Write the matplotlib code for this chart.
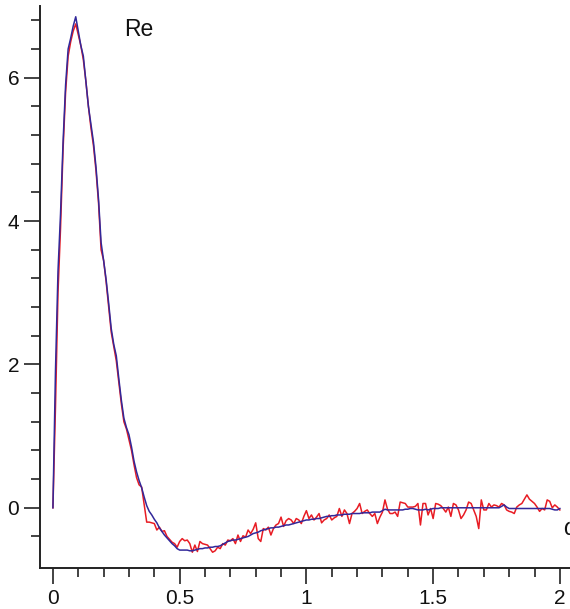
import matplotlib
matplotlib.use("Agg")
import matplotlib.pyplot as plt
import numpy as np

plt.rcParams['font.family'] = ['Liberation Sans', 'DejaVu Sans']

# frequency grid, step 0.01 from 0 to 2
omega = np.round(np.arange(0, 201) * 0.01, 2)

# measured (noisy) real part
re_data = [
    0.00, 1.40, 3.00, 3.90, 5.00, 5.80, 6.30, 6.50, 6.65, 6.75,
    6.60, 6.45, 6.25, 5.95, 5.60, 5.30, 5.05, 4.70, 4.25, 3.60,
    3.45, 3.15, 2.80, 2.45, 2.25, 2.05, 1.75, 1.45, 1.20, 1.10,
    0.95, 0.80, 0.60, 0.42, 0.32, 0.29, 0.05, -0.20, -0.20, -0.21,
    -0.22, -0.31, -0.27, -0.33, -0.32, -0.40, -0.44, -0.48, -0.50, -0.55,
    -0.47, -0.43, -0.46, -0.45, -0.50, -0.62, -0.52, -0.61, -0.47, -0.50,
    -0.51, -0.52, -0.57, -0.62, -0.60, -0.55, -0.57, -0.50, -0.52, -0.45,
    -0.46, -0.43, -0.50, -0.38, -0.47, -0.39, -0.41, -0.31, -0.36, -0.30,
    -0.21, -0.43, -0.47, -0.29, -0.31, -0.27, -0.38, -0.29, -0.24, -0.22,
    -0.13, -0.26, -0.18, -0.15, -0.17, -0.22, -0.15, -0.17, -0.22, -0.12,
    -0.04, -0.15, -0.10, -0.17, -0.13, -0.08, -0.21, -0.17, -0.15, -0.10,
    -0.17, -0.14, -0.12, -0.01, -0.12, -0.03, -0.08, -0.22, -0.08, -0.05,
    -0.01, 0.06, -0.08, -0.05, -0.03, -0.08, -0.12, -0.08, -0.22, -0.13,
    -0.06, 0.11, -0.02, -0.08, -0.08, -0.06, -0.12, 0.08, 0.07, 0.06,
    0.01, 0.01, 0.01, 0.02, 0.06, -0.24, 0.06, 0.06, -0.10, -0.01,
    -0.15, 0.06, 0.05, 0.03, -0.01, -0.06, 0.01, -0.12, 0.06, 0.04,
    -0.03, -0.15, -0.10, -0.03, 0.08, 0.06, -0.03, -0.12, -0.29, 0.11,
    -0.03, -0.03, 0.06, 0.01, 0.04, 0.03, 0.01, 0.06, 0.04, -0.03,
    -0.05, -0.06, -0.08, 0.01, 0.04, 0.06, 0.12, 0.18, 0.12, 0.09,
    0.06, 0.01, -0.05, -0.01, -0.03, 0.11, 0.09, 0.00, 0.04, 0.01,
    -0.03,
]

# fitted real part
re_fit = [
    0.00, 1.90, 3.30, 4.10, 5.10, 5.90, 6.40, 6.55, 6.72, 6.85,
    6.65, 6.45, 6.30, 5.95, 5.60, 5.35, 5.10, 4.75, 4.30, 3.70,
    3.45, 3.18, 2.85, 2.50, 2.28, 2.12, 1.80, 1.50, 1.25, 1.12,
    1.02, 0.85, 0.65, 0.50, 0.38, 0.28, 0.15, 0.03, -0.05, -0.10,
    -0.16, -0.21, -0.28, -0.33, -0.38, -0.42, -0.46, -0.50, -0.53, -0.57,
    -0.59, -0.59, -0.59, -0.59, -0.60, -0.60, -0.59, -0.58, -0.57, -0.57,
    -0.56, -0.56, -0.55, -0.55, -0.54, -0.54, -0.53, -0.51, -0.49, -0.47,
    -0.46, -0.45, -0.45, -0.44, -0.43, -0.42, -0.41, -0.40, -0.38, -0.36,
    -0.35, -0.34, -0.32, -0.31, -0.30, -0.29, -0.28, -0.28, -0.27, -0.27,
    -0.26, -0.25, -0.24, -0.24, -0.23, -0.22, -0.21, -0.20, -0.19, -0.18,
    -0.17, -0.17, -0.16, -0.16, -0.15, -0.15, -0.14, -0.13, -0.12, -0.12,
    -0.11, -0.11, -0.10, -0.10, -0.10, -0.09, -0.09, -0.09, -0.08, -0.08,
    -0.08, -0.08, -0.07, -0.07, -0.07, -0.07, -0.06, -0.06, -0.06, -0.06,
    -0.04, -0.02, -0.03, -0.03, -0.03, -0.03, -0.03, -0.03, -0.03, -0.02,
    -0.02, -0.01, -0.01, -0.02, -0.03, -0.03, -0.03, -0.02, -0.03, -0.02,
    -0.01, -0.01, -0.01, 0.00, 0.00, 0.00, 0.00, 0.00, 0.00, 0.00,
    0.00, 0.00, 0.00, 0.00, 0.00, 0.00, 0.00, 0.00, 0.00, 0.00,
    0.00, 0.00, 0.00, 0.00, 0.00, 0.00, 0.00, 0.02, 0.04, 0.01,
    -0.01, -0.01, -0.01, -0.01, -0.01, -0.01, -0.01, -0.01, -0.01, -0.01,
    -0.01, -0.01, -0.01, -0.01, -0.01, -0.01, -0.01, -0.02, -0.03, -0.03,
    -0.01,
]

x_major = [0, 0.5, 1, 1.5, 2]
x_minor = np.round(np.arange(0, 20.5) * 0.1, 1)
y_major = [0, 2, 4, 6]
y_minor = [-0.4, 0.4, 0.8, 1.2, 1.6, 2.4, 2.8, 3.2, 3.6, 4.4, 4.8, 5.2, 5.6, 6.4, 6.8]

fig = plt.figure(figsize=(5.70, 6.09), dpi=100)
ax = fig.add_axes([40 / 570, 41 / 609, 530 / 570, 562 / 609])

ax.plot(omega, re_data, color='#e81c24', lw=1.1)
ax.plot(omega, re_fit, color='#32289a', lw=1.1)

ax.set_xlim(-0.051, 2.04)
ax.set_ylim(-0.84, 7.0)

for s in ['top', 'right']:
    ax.spines[s].set_visible(False)
for s in ['left', 'bottom']:
    ax.spines[s].set_linewidth(1.4)
    ax.spines[s].set_color('#222222')

ax.set_xticks(x_major)
ax.set_xticklabels(['0', '0.5', '1', '1.5', '2'])
ax.set_xticks(x_minor, minor=True)
ax.set_yticks(y_major)
ax.set_yticks(y_minor, minor=True)

ax.tick_params(which='major', length=11.5, width=1.2, labelsize=15, pad=3.5,
               color='#222222', labelcolor='#111111')
ax.tick_params(which='minor', length=6.5, width=1.2, color='#222222')

# axis captions; the omega sits at the right edge and is partly cut off, as in the original
fig.text(124 / 570, 1 - 36 / 609, 'Re', fontsize=16.5, va='baseline', color='#111111')
fig.text(563 / 570, 1 - 535 / 609, 'ω', fontsize=16.5, va='baseline', color='#111111')

fig.savefig('out.png', dpi=100)
